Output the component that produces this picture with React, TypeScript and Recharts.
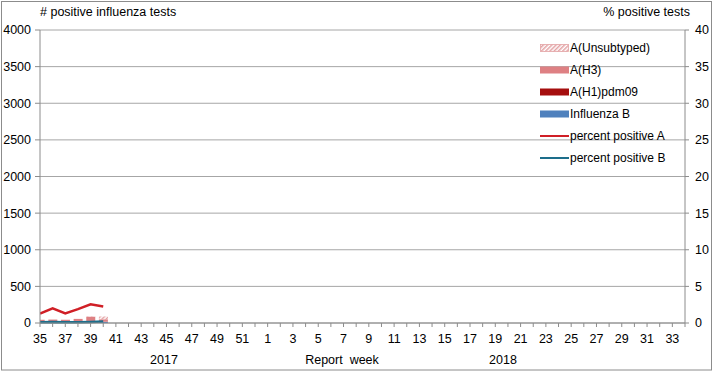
import React from "react";
import {
  ComposedChart,
  Bar,
  Line,
  XAxis,
  YAxis,
  CartesianGrid,
  Legend,
} from "recharts";

// Report weeks (2017 week 35 .. 2018 week 34)
const weeks = [
  35, 36, 37, 38, 39, 40, 41, 42, 43, 44, 45, 46, 47, 48, 49, 50, 51, 52,
  1, 2, 3, 4, 5, 6, 7, 8, 9, 10, 11, 12, 13, 14, 15, 16, 17, 18, 19, 20,
  21, 22, 23, 24, 25, 26, 27, 28, 29, 30, 31, 32, 33, 34,
];

// Series (only first weeks reported)
const influenzaB = [16, 17, 16, 16, 17, 16];
const aH1pdm09 = [2, 2, 2, 3, 3, 3];
const aH3 = [26, 28, 26, 37, 66, 32];
const aUnsubtyped = [0, 0, 0, 0, 4, 38];
const pctPositiveA = [1.3, 2.0, 1.3, 1.9, 2.55, 2.25];
const pctPositiveB = [0.1, 0.15, 0.1, 0.1, 0.15, 0.2];

const leftTicks = [0, 500, 1000, 1500, 2000, 2500, 3000, 3500, 4000];
const rightTicks = [0, 5, 10, 15, 20, 25, 30, 35, 40];

const seriesNames = [
  "A(Unsubtyped)",
  "A(H3)",
  "A(H1)pdm09",
  "Influenza B",
  "percent positive A",
  "percent positive B",
];

const COLORS = {
  unsub: "#E3A2A4",
  h3: "#DE8083",
  h1: "#A50E0E",
  b: "#4F81BD",
  pA: "#D01F26",
  pB: "#1D6E8B",
  axis: "#8C8C8C",
  grid: "#A6A6A6",
};

const FONT = "'Liberation Sans', Arial, sans-serif";

const data = weeks.map((w, i) => ({
  i,
  week: w,
  b: influenzaB[i] ?? null,
  h1: aH1pdm09[i] ?? null,
  h3: aH3[i] ?? null,
  unsub: aUnsubtyped[i] ?? null,
  pA: pctPositiveA[i] ?? null,
  pB: pctPositiveB[i] ?? null,
}));

const xTicks = weeks.map((_, i) => i);

function LegendContent() {
  const kinds = ["hatch", "h3", "h1", "b", "pA", "pB"];
  return (
    <div style={{ fontFamily: FONT, fontSize: 12, color: "#000" }}>
      {seriesNames.map((name, k) => {
        const kind = kinds[k];
        return (
          <div
            key={name}
            style={{ display: "flex", alignItems: "center", height: 22 }}
          >
            <svg width={29} height={10} style={{ marginRight: 1 }}>
              <defs>
                <pattern
                  id="hatchLegend"
                  patternUnits="userSpaceOnUse"
                  width="3"
                  height="3"
                  patternTransform="rotate(45)"
                >
                  <rect width="3" height="3" fill="#fff" />
                  <rect width="1.5" height="3" fill={COLORS.unsub} />
                </pattern>
              </defs>
              {kind === "hatch" && (
                <rect x={0.5} y={1.5} width={28} height={7} fill="url(#hatchLegend)" stroke={COLORS.unsub} strokeWidth={0.8} />
              )}
              {kind === "h3" && <rect x={0} y={1.5} width={29} height={7} fill={COLORS.h3} />}
              {kind === "h1" && <rect x={0} y={1.5} width={29} height={7} fill={COLORS.h1} />}
              {kind === "b" && <rect x={0} y={1.5} width={29} height={7} fill={COLORS.b} />}
              {kind === "pA" && <line x1={0} x2={29} y1={5} y2={5} stroke={COLORS.pA} strokeWidth={2} />}
              {kind === "pB" && <line x1={0} x2={29} y1={5} y2={5} stroke={COLORS.pB} strokeWidth={2} />}
            </svg>
            <span>{name}</span>
          </div>
        );
      })}
    </div>
  );
}

export default function App() {
  return (
    <div style={{ position: "absolute", left: 0, top: 0, width: 716, height: 375, background: "#fff" }}>
      <ComposedChart
        width={716}
        height={375}
        data={data}
        margin={{ top: 30, right: 0, bottom: 0, left: 0 }}
        style={{ fontFamily: FONT }}
      >
        <defs>
          <pattern
            id="hatch"
            patternUnits="userSpaceOnUse"
            width="3"
            height="3"
            patternTransform="rotate(45)"
          >
            <rect width="3" height="3" fill="#fff" />
            <rect width="1.5" height="3" fill={COLORS.unsub} />
          </pattern>
        </defs>
        <rect x={1.5} y={1.5} width={710} height={368.5} fill="none" stroke={COLORS.axis} strokeWidth={1} />
        <CartesianGrid horizontal vertical={false} stroke={COLORS.grid} yAxisId="left" />
        <XAxis
          type="number"
          dataKey="i"
          domain={[0, 51]}
          ticks={xTicks}
          interval={0}
          allowDataOverflow
          height={52}
          tickSize={4}
          tickMargin={7}
          tickFormatter={(v: number) => (v % 2 === 0 ? String(weeks[v]) : "")}
          tick={{ fill: "#000", fontSize: 12.5, fontFamily: FONT }}
          axisLine={{ stroke: COLORS.axis }}
          tickLine={{ stroke: COLORS.axis }}
        />
        <YAxis
          yAxisId="left"
          width={40}
          domain={[0, 4000]}
          ticks={leftTicks}
          interval={0}
          tickSize={5}
          tickMargin={4}
          tick={{ fill: "#000", fontSize: 12.5, fontFamily: FONT }}
          axisLine={{ stroke: COLORS.axis }}
          tickLine={{ stroke: COLORS.axis }}
        />
        <YAxis
          yAxisId="right"
          orientation="right"
          width={31}
          domain={[0, 40]}
          ticks={rightTicks}
          interval={0}
          tickSize={4}
          tickMargin={6}
          tick={{ fill: "#000", fontSize: 12.5, fontFamily: FONT }}
          axisLine={{ stroke: COLORS.axis }}
          tickLine={{ stroke: COLORS.axis }}
        />
        <Bar yAxisId="left" dataKey="b" stackId="s" fill={COLORS.b} barSize={9} isAnimationActive={false} />
        <Bar yAxisId="left" dataKey="h1" stackId="s" fill={COLORS.h1} barSize={9} isAnimationActive={false} />
        <Bar yAxisId="left" dataKey="h3" stackId="s" fill={COLORS.h3} barSize={9} isAnimationActive={false} />
        <Bar yAxisId="left" dataKey="unsub" stackId="s" fill="url(#hatch)" barSize={9} isAnimationActive={false} />
        <Line yAxisId="right" dataKey="pA" stroke={COLORS.pA} strokeWidth={2.5} dot={false} isAnimationActive={false} />
        <Line yAxisId="right" dataKey="pB" stroke={COLORS.pB} strokeWidth={2.5} dot={false} isAnimationActive={false} />
        <Legend
          layout="vertical"
          align="center"
          verticalAlign="middle"
          content={() => <LegendContent />}
          wrapperStyle={{ position: "absolute", left: 540, top: 37, width: 170, height: 132 }}
        />
        <text x={40} y={16} fontSize={12.5} fontFamily={FONT} fill="#000">
          # positive influenza tests
        </text>
        <text x={690} y={16} fontSize={12.5} fontFamily={FONT} fill="#000" textAnchor="end">
          % positive tests
        </text>
        <text x={164} y={364} fontSize={12.5} fontFamily={FONT} fill="#000" textAnchor="middle">
          2017
        </text>
        <text x={342} y={364} fontSize={12.5} fontFamily={FONT} fill="#000" textAnchor="middle" style={{ whiteSpace: "pre" }}>
          {"Report  week"}
        </text>
        <text x={503} y={364} fontSize={12.5} fontFamily={FONT} fill="#000" textAnchor="middle">
          2018
        </text>
      </ComposedChart>
    </div>
  );
}
